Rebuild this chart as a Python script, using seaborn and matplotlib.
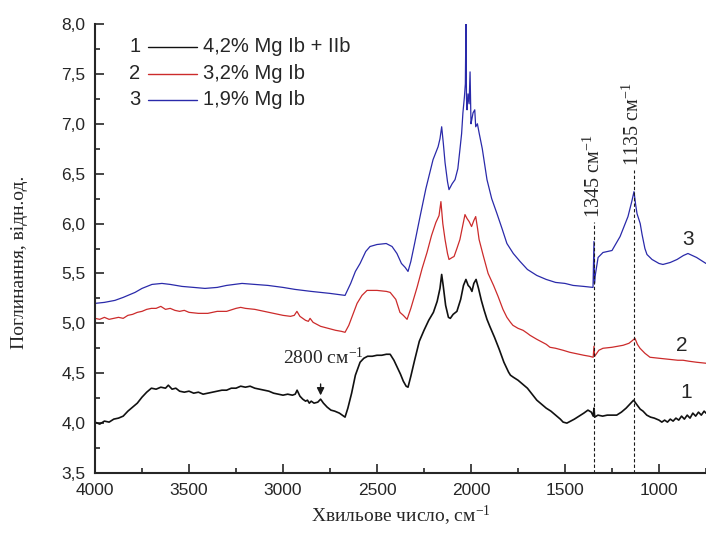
import numpy as np
import pandas as pd
import seaborn as sns
import matplotlib
matplotlib.use('Agg')
import matplotlib.pyplot as plt
from matplotlib.ticker import FuncFormatter, MultipleLocator

# --- data (wavenumber, absorbance) ---
black_wn = [4000, 3975, 3950, 3925, 3900, 3875, 3850, 3825, 3800, 3775, 3750, 3725, 3700, 3675, 3650, 3625,
            3610, 3590, 3570, 3550, 3525, 3500, 3475, 3450, 3425, 3400, 3375, 3350, 3325, 3300, 3275, 3250,
            3225, 3200, 3175, 3150, 3125, 3100, 3075, 3050, 3025, 3000, 2975, 2950, 2935, 2925, 2910, 2895,
            2880, 2870, 2860, 2850, 2835, 2815, 2800, 2785, 2765, 2745, 2725, 2700, 2685, 2670, 2655, 2635,
            2615, 2590, 2570, 2550, 2525, 2500, 2475, 2450, 2430, 2410, 2390, 2375, 2360, 2345, 2335, 2320,
            2300, 2275, 2250, 2225, 2200, 2180, 2165, 2156, 2148, 2135, 2120, 2110, 2095, 2075, 2055, 2040,
            2027, 2015, 2005, 1995, 1985, 1973, 1960, 1945, 1930, 1915, 1900, 1875, 1850, 1825, 1800, 1790,
            1775, 1750, 1725, 1700, 1675, 1650, 1625, 1600, 1575, 1550, 1525, 1510, 1490, 1470, 1450, 1425,
            1400, 1378, 1360, 1350, 1346, 1342, 1325, 1300, 1275, 1250, 1225, 1200, 1175, 1150, 1135, 1120,
            1100, 1085, 1065, 1045, 1025, 1000, 985, 970, 955, 940, 925, 910, 895, 880, 865, 850, 835, 820,
            805, 790, 775, 760, 750]
black_val = [4.01, 3.99, 4.02, 4.01, 4.04, 4.05, 4.07, 4.12, 4.16, 4.20, 4.26, 4.31, 4.35, 4.34, 4.36, 4.35,
             4.38, 4.34, 4.35, 4.32, 4.31, 4.32, 4.30, 4.31, 4.29, 4.30, 4.31, 4.32, 4.33, 4.33, 4.35, 4.35,
             4.37, 4.36, 4.37, 4.35, 4.34, 4.33, 4.32, 4.30, 4.29, 4.28, 4.29, 4.28, 4.29, 4.33, 4.27, 4.24,
             4.22, 4.23, 4.20, 4.22, 4.20, 4.21, 4.24, 4.20, 4.16, 4.13, 4.12, 4.10, 4.08, 4.06, 4.15, 4.30,
             4.48, 4.61, 4.65, 4.67, 4.67, 4.68, 4.68, 4.69, 4.69, 4.63, 4.55, 4.49, 4.42, 4.37, 4.36, 4.47,
             4.63, 4.82, 4.93, 5.03, 5.11, 5.22, 5.35, 5.49, 5.38, 5.18, 5.06, 5.05, 5.09, 5.12, 5.24, 5.38,
             5.44, 5.38, 5.36, 5.32, 5.40, 5.44, 5.35, 5.23, 5.13, 5.04, 4.97, 4.86, 4.74, 4.61, 4.51, 4.48,
             4.46, 4.43, 4.39, 4.35, 4.29, 4.23, 4.19, 4.15, 4.12, 4.08, 4.04, 4.01, 4.00, 4.02, 4.04, 4.07,
             4.10, 4.13, 4.11, 4.07, 4.15, 4.06, 4.08, 4.07, 4.08, 4.08, 4.08, 4.11, 4.15, 4.20, 4.23, 4.19,
             4.14, 4.12, 4.08, 4.06, 4.05, 4.03, 4.01, 4.03, 4.01, 4.04, 4.02, 4.05, 4.03, 4.07, 4.04, 4.08,
             4.05, 4.10, 4.07, 4.11, 4.08, 4.12, 4.10]

red_wn = [4000, 3975, 3950, 3925, 3900, 3875, 3850, 3825, 3800, 3775, 3750, 3725, 3700, 3675, 3650, 3625,
          3600, 3575, 3550, 3525, 3500, 3450, 3400, 3350, 3300, 3250, 3225, 3200, 3150, 3100, 3050, 3000,
          2960, 2940, 2926, 2910, 2880, 2865, 2856, 2840, 2800, 2760, 2720, 2690, 2670, 2650, 2630, 2606,
          2580, 2553, 2500, 2450, 2430, 2400, 2378, 2360, 2340, 2320, 2287, 2260, 2234, 2210, 2187, 2170,
          2160, 2150, 2138, 2125, 2117, 2100, 2090, 2075, 2059, 2045, 2032, 2021, 2010, 1997, 1985, 1975,
          1965, 1957, 1935, 1909, 1880, 1856, 1830, 1809, 1790, 1777, 1750, 1723, 1700, 1686, 1650, 1600,
          1580, 1550, 1510, 1475, 1450, 1400, 1370, 1350, 1346, 1342, 1320, 1298, 1250, 1191, 1160, 1140,
          1128, 1115, 1101, 1075, 1048, 1000, 950, 900, 872, 840, 800, 750]
red_val = [5.05, 5.04, 5.06, 5.04, 5.05, 5.06, 5.05, 5.08, 5.09, 5.11, 5.12, 5.14, 5.15, 5.15, 5.17, 5.14,
           5.15, 5.13, 5.12, 5.13, 5.11, 5.10, 5.10, 5.12, 5.12, 5.15, 5.16, 5.15, 5.14, 5.12, 5.10, 5.08,
           5.07, 5.08, 5.12, 5.07, 5.03, 5.02, 5.05, 5.01, 4.97, 4.95, 4.93, 4.92, 4.91, 4.98, 5.08, 5.20,
           5.28, 5.33, 5.33, 5.32, 5.31, 5.24, 5.11, 5.08, 5.04, 5.15, 5.36, 5.55, 5.71, 5.88, 6.01, 6.08,
           6.22, 6.00, 5.84, 5.70, 5.64, 5.66, 5.67, 5.75, 5.84, 5.97, 6.09, 6.05, 6.02, 5.97, 6.03, 6.07,
           5.95, 5.84, 5.68, 5.50, 5.38, 5.27, 5.14, 5.06, 5.01, 4.98, 4.95, 4.93, 4.90, 4.88, 4.84, 4.79,
           4.76, 4.75, 4.73, 4.71, 4.70, 4.68, 4.67, 4.66, 4.77, 4.67, 4.73, 4.75, 4.76, 4.78, 4.80, 4.83,
           4.85, 4.79, 4.75, 4.70, 4.66, 4.65, 4.64, 4.63, 4.63, 4.62, 4.61, 4.60]

blue_wn = [4000, 3950, 3894, 3850, 3787, 3750, 3697, 3644, 3600, 3537, 3475, 3415, 3350, 3300, 3218, 3150,
           3080, 3000, 2936, 2850, 2750, 2670, 2640, 2615, 2590, 2560, 2537, 2500, 2451, 2420, 2394, 2370,
           2350, 2335, 2320, 2300, 2271, 2240, 2202, 2175, 2165, 2156, 2147, 2138, 2125, 2117, 2100, 2085,
           2070, 2059, 2050, 2043, 2035, 2030, 2027, 2024, 2021, 2016, 2010, 2005, 2000, 1995, 1989, 1980,
           1975, 1966, 1957, 1940, 1915, 1890, 1862, 1835, 1809, 1775, 1739, 1700, 1650, 1600, 1550, 1500,
           1457, 1400, 1351, 1346, 1343, 1340, 1324, 1298, 1250, 1207, 1165, 1145, 1133, 1125, 1117, 1100,
           1090, 1075, 1064, 1037, 1000, 979, 940, 904, 870, 846, 800, 750]
blue_val = [5.20, 5.21, 5.23, 5.26, 5.31, 5.35, 5.39, 5.40, 5.39, 5.37, 5.36, 5.35, 5.36, 5.38, 5.40, 5.39,
            5.38, 5.36, 5.34, 5.32, 5.30, 5.28, 5.40, 5.52, 5.60, 5.72, 5.77, 5.79, 5.80, 5.77, 5.70, 5.60,
            5.56, 5.52, 5.62, 5.80, 6.07, 6.35, 6.64, 6.77, 6.85, 6.97, 6.80, 6.61, 6.42, 6.34, 6.40, 6.44,
            6.55, 6.74, 6.90, 7.11, 7.27, 7.40, 8.00, 7.25, 7.14, 7.30, 7.20, 7.52, 7.00, 7.05, 7.11, 7.14,
            6.97, 7.00, 6.91, 6.75, 6.44, 6.25, 6.10, 5.95, 5.80, 5.70, 5.62, 5.54, 5.48, 5.44, 5.41, 5.40,
            5.38, 5.37, 5.36, 5.82, 5.40, 5.47, 5.66, 5.71, 5.73, 5.87, 6.07, 6.22, 6.32, 6.20, 6.10, 6.00,
            5.89, 5.75, 5.69, 5.64, 5.60, 5.59, 5.61, 5.64, 5.68, 5.70, 5.66, 5.60]

series_nums = ['1', '2', '3']
series_labels = ['4,2% Mg Ib + IIb', '3,2% Mg Ib', '1,9% Mg Ib']
series_colors = ['#111111', '#cc2b2b', '#2a2aaa']
series_widths = [1.2, 0.9, 0.9]

x_ticks = [4000, 3500, 3000, 2500, 2000, 1500, 1000]
y_ticks = [3.5, 4.0, 4.5, 5.0, 5.5, 6.0, 6.5, 7.0, 7.5, 8.0]

peak_marks = [1345, 1135]
peak_tops = [6.02, 6.54]
peak_text = ['1345 см$^{-1}$', '1135 см$^{-1}$']

# curve number labels next to right end
curve_label_pos = [(857, 4.31), (878, 4.78), (846, 5.84)]

frames = [
    pd.DataFrame({'wn': black_wn, 'val': black_val, 'sample': series_labels[0]}),
    pd.DataFrame({'wn': red_wn, 'val': red_val, 'sample': series_labels[1]}),
    pd.DataFrame({'wn': blue_wn, 'val': blue_val, 'sample': series_labels[2]}),
]

sns.set_theme(style='ticks')
plt.rcParams['font.family'] = ['Liberation Sans', 'DejaVu Sans']
plt.rcParams['mathtext.fontset'] = 'custom'
plt.rcParams['mathtext.rm'] = 'Liberation Serif'
plt.rcParams['mathtext.default'] = 'regular'

fig = plt.figure(figsize=(7.06, 5.39), dpi=100)
ax = fig.add_axes([95 / 706, 66 / 539, 611 / 706, 449 / 539])

for d, col, lw in zip(frames, series_colors, series_widths):
    sns.lineplot(data=d, x='wn', y='val', color=col, estimator=None, sort=False,
                 linewidth=lw, ax=ax)

ax.set_xlim(4000, 750)
ax.set_ylim(3.5, 8.0)
ax.set_xticks(x_ticks)
ax.set_yticks(y_ticks)
ax.xaxis.set_minor_locator(MultipleLocator(250))
ax.yaxis.set_minor_locator(MultipleLocator(0.25))
ax.yaxis.set_major_formatter(FuncFormatter(lambda v, p: f'{v:.1f}'.replace('.', ',')))
ax.tick_params(which='both', direction='in', width=1.2, labelsize=12.5, pad=7)
ax.tick_params(which='major', length=6.5)
ax.tick_params(which='minor', length=3.5)
for s in ['left', 'bottom']:
    ax.spines[s].set_linewidth(1.5)
sns.despine(ax=ax)

serif = ['Liberation Serif', 'DejaVu Serif']
ax.set_xlabel('Хвильове число, см$^{-1}$', fontsize=14, family=serif)
ax.set_ylabel('Поглинання, відн.од.', fontsize=14, family=serif)
ax.xaxis.set_label_coords(0.5, -0.07)
ax.yaxis.set_label_coords(-0.11, 0.47)

# vertical dashed markers with rotated labels
for wn, top, txt in zip(peak_marks, peak_tops, peak_text):
    ax.plot([wn, wn], [3.5, top], color='k', lw=0.8, ls=(0, (3, 2)))
    ax.text(wn, top + 0.04, txt, rotation=90, ha='center', va='bottom', fontsize=14.5, family=serif)

# 2800 annotation
ax.text(3000, 4.66, '2800 см$^{-1}$', ha='left', va='center', fontsize=14, family=serif)
ax.annotate('', xy=(2800, 4.25), xytext=(2800, 4.42),
            arrowprops=dict(arrowstyle='-|>', color='k', lw=1.0, mutation_scale=11))

# curve numbers
for num, (x, y) in zip(series_nums, curve_label_pos):
    ax.text(x, y, num, ha='center', va='center', fontsize=15)

# hand-made legend: number, line sample, label
legend_rows = [0.949, 0.889, 0.831]
for num, lab, col, yy in zip(series_nums, series_labels, series_colors, legend_rows):
    ax.text(0.065, yy, num, transform=ax.transAxes, ha='center', va='center', fontsize=14.5)
    ax.plot([0.087, 0.167], [yy, yy], transform=ax.transAxes, color=col, lw=1.0)
    ax.text(0.177, yy, lab, transform=ax.transAxes, ha='left', va='center', fontsize=14.5)

fig.savefig('out.png', dpi=100)
